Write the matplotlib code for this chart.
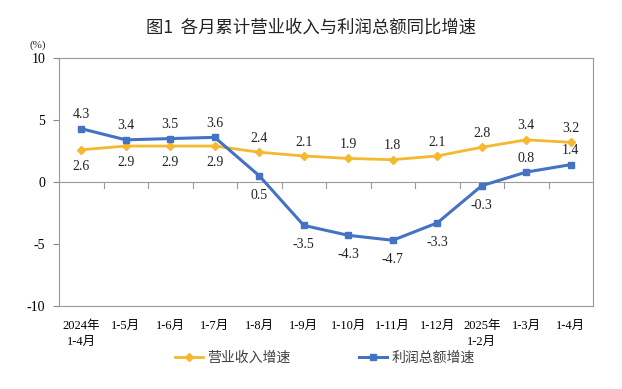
import matplotlib
matplotlib.use("Agg")
import matplotlib.pyplot as plt
import numpy as np

categories = ["2024年\n1-4月", "1-5月", "1-6月", "1-7月", "1-8月", "1-9月", "1-10月",
              "1-11月", "1-12月", "2025年\n1-2月", "1-3月", "1-4月"]
revenue = [2.6, 2.9, 2.9, 2.9, 2.4, 2.1, 1.9, 1.8, 2.1, 2.8, 3.4, 3.2]
profit = [4.3, 3.4, 3.5, 3.6, 0.5, -3.5, -4.3, -4.7, -3.3, -0.3, 0.8, 1.4]
rev_label_below = [True, True, True, True, False, False, False, False, False, False, False, False]
prof_label_below = [False, False, False, False, True, True, True, True, True, True, False, False]
yticks = [-10, -5, 0, 5, 10]

fam = ['Liberation Serif', 'Noto Sans CJK SC']
plt.rcParams['font.family'] = fam

fig = plt.figure(figsize=(6.22, 3.89), dpi=100)
ax = fig.add_axes([59/622, 1-306/389, (593-59)/622, (306-58)/389])

yellow = '#F5B82E'
blue = '#4472C4'
x = np.arange(len(categories))

ax.plot(x, revenue, color=yellow, lw=2, marker='D', ms=4.5, zorder=3, label='营业收入增速')
ax.plot(x, profit, color=blue, lw=2.2, marker='s', ms=4.5, zorder=4, label='利润总额增速')

ax.set_xlim(-0.5, len(categories) - 0.5)
ax.set_ylim(-10, 10)
ax.set_yticks(yticks)
ax.set_yticklabels([str(v) for v in yticks], fontsize=10)
ax.set_xticks(x)
ax.set_xticklabels(categories, fontsize=9, family=['Liberation Serif', 'Noto Sans CJK SC'], linespacing=1.5)
ax.tick_params(axis='x', length=0, pad=10)
ax.tick_params(axis='y', length=4, color='#888888', direction='out', pad=6)
for s in ax.spines.values():
    s.set_color('#999999')
    s.set_linewidth(0.8)

# zero line with boundary ticks
ax.axhline(0, color='#999999', lw=0.8, zorder=1)
for b in np.arange(0.5, len(categories) - 0.5, 1):
    ax.plot([b, b], [0, -0.45], color='#999999', lw=0.8, zorder=1)

for xi, v, below in zip(x, revenue, rev_label_below):
    ax.annotate(f"{v}", (xi, v), xytext=(0, -12 if below else 10), textcoords='offset points',
                ha='center', va='center', fontsize=10, color='#222222')
for xi, v, below in zip(x, profit, prof_label_below):
    ax.annotate(f"{v}", (xi, v), xytext=(0, -14 if below else 10), textcoords='offset points',
                ha='center', va='center', fontsize=10, color='#222222')

fig.text(0.5, 1-28/389, '图1  各月累计营业收入与利润总额同比增速', ha='center', va='center',
         fontsize=12.5, family=['Noto Sans CJK SC'], color='#222222')
fig.text(38/622, 1-45/389, '(%)', ha='center', va='center', fontsize=8, color='#222222')

leg = fig.legend(loc='center', bbox_to_anchor=(0.522, 1-358/389), ncol=2, frameon=False,
                 handlelength=2, columnspacing=5, handletextpad=0.3,
                 prop={'family': ['Noto Sans CJK SC'], 'size': 10})
for t in leg.get_texts():
    t.set_color('#404040')

fig.savefig('out.png', dpi=100)
